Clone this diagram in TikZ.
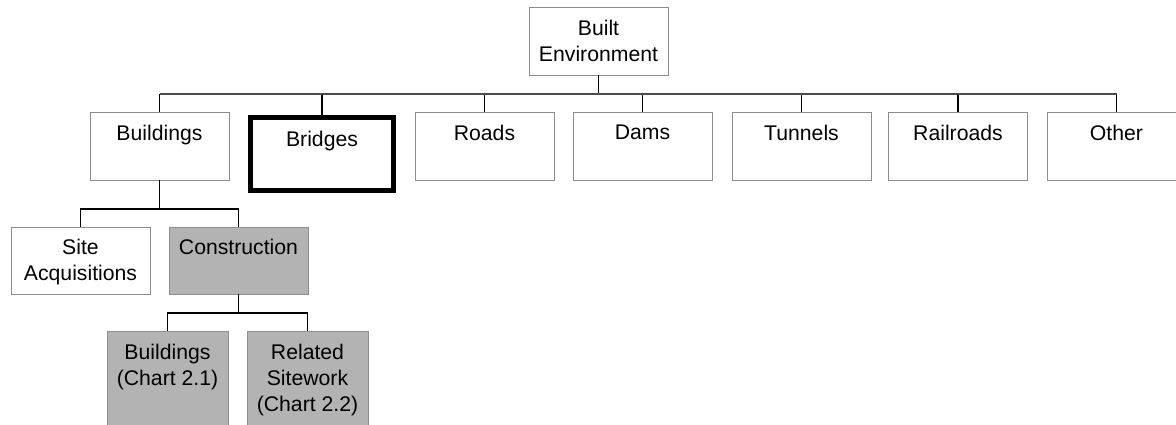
\documentclass[tikz,border=0pt]{standalone}
\usepackage{fontspec}
\setmainfont{Liberation Sans}
\definecolor{boxgray}{HTML}{8C8C8C}
\definecolor{shadegray}{HTML}{B3B3B3}
\definecolor{busgray}{HTML}{4D4D4D}
\begin{document}
\begin{tikzpicture}[x=1pt,y=-1pt,
  box/.style={draw=boxgray, line width=1pt, fill=white, minimum width=139pt, minimum height=68pt, anchor=north, inner sep=0pt, outer sep=0pt},
  hlbox/.style={draw=black, line width=5pt, fill=white, minimum width=143pt, minimum height=73pt, anchor=north, inner sep=0pt, outer sep=2.5pt},
  shaded/.style={fill=shadegray},
  txt/.style={font=\fontsize{21.2}{26}\selectfont, align=center, inner sep=0pt, anchor=north},
  conn/.style={draw=black, line width=1.2pt},
  bus/.style={draw=busgray, line width=2pt}]
\fill[white] (0,0) rectangle (1176,424);
\useasboundingbox (0,0) rectangle (1176,424);
\clip (0,0) rectangle (1176,424);
% boxes
\node[box] (be) at (598.5,7) {};
\node[box] (bld) at (159.5,112) {};
\node[hlbox] (brg) at (322,114.5) {};
\node[box] (rds) at (484.5,112) {};
\node[box] (dms) at (642.5,112) {};
\node[box] (tnl) at (801.5,112) {};
\node[box] (rlr) at (958,112) {};
\node[box] (oth) at (1116.5,112) {};
\node[box, minimum height=67pt] (site) at (80.5,227) {};
\node[box, shaded, minimum height=67pt] (cons) at (238.5,227) {};
\node[box, shaded, minimum width=121pt, minimum height=110pt] (b21) at (167.5,331) {};
\node[box, shaded, minimum width=121pt, minimum height=110pt] (rs22) at (307.5,331) {};
% texts
\node[txt] (be-t) at ([yshift=-13pt]be.north) {Built\\Environment};
\node[txt] (bld-t) at ([yshift=-13pt]bld.north) {Buildings};
\node[txt] (brg-t) at ([yshift=-16pt]brg.north) {Bridges};
\node[txt] (rds-t) at ([yshift=-13pt]rds.north) {Roads};
\node[txt] (dms-t) at ([yshift=-13pt]dms.north) {Dams};
\node[txt] (tnl-t) at ([yshift=-13pt]tnl.north) {Tunnels};
\node[txt] (rlr-t) at ([yshift=-13pt]rlr.north) {Railroads};
\node[txt] (oth-t) at ([yshift=-13pt]oth.north) {Other};
\node[txt] (site-t) at ([yshift=-12pt]site.north) {Site\\Acquisitions};
\node[txt] (cons-t) at ([yshift=-12pt]cons.north) {Construction};
\node[txt] (b21-t) at ([yshift=-13pt]b21.north) {Buildings\\(Chart 2.1)};
\node[txt] (rs22-t) at ([yshift=-13pt]rs22.north) {Related\\Sitework\\(Chart 2.2)};
% connectors
\coordinate (j1) at (598.5,94);
\coordinate (j2) at (159.5,209);
\coordinate (j3) at (238.5,313);
\draw[conn] (be.south) -- (j1);
\foreach \n in {bld,brg,rds,dms,tnl,rlr,oth} {\draw[conn] (\n.north) -- (\n.north |- j1);}
\draw[bus] (bld.north |- j1) -- (oth.north |- j1);
\draw[conn] (bld.south) -- (j2);
\draw[conn] (site.north) |- (j2) -| (cons.north);
\draw[conn] (cons.south) -- (j3);
\draw[conn] (b21.north) |- (j3) -| (rs22.north);
\end{tikzpicture}
\end{document}
